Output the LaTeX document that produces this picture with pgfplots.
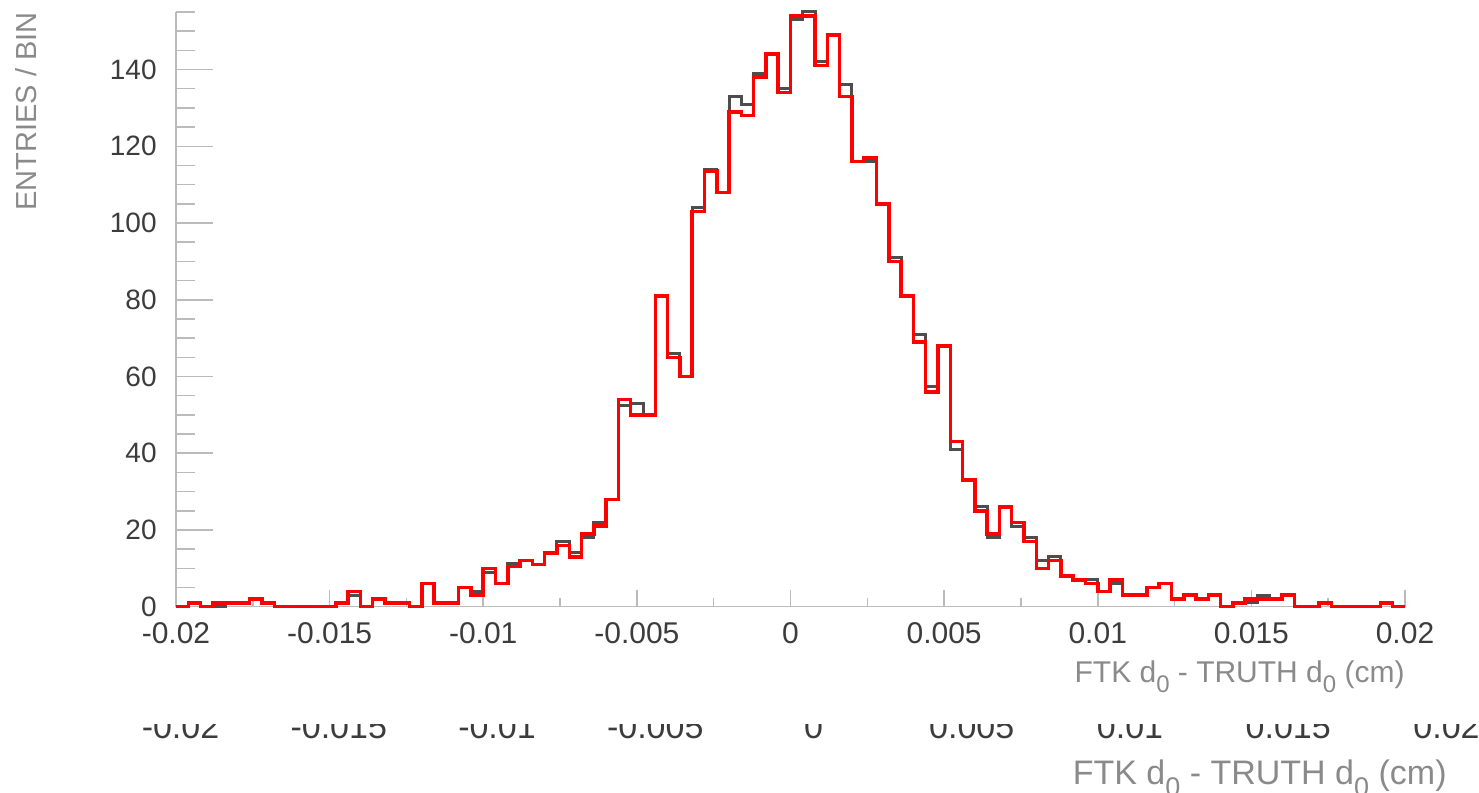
\documentclass[border=0pt]{standalone}
\usepackage{pgfplots}
\pgfplotsset{compat=1.18}
\usepackage{pgfplotstable}
\usepackage{fontspec}
\setmainfont{Liberation Sans}
\definecolor{histgray}{HTML}{4D4D4D}
\definecolor{axisgray}{HTML}{BBBBBB}
\definecolor{ticklab}{HTML}{3C3C3C}
\definecolor{titlegray}{HTML}{8A8A8A}

\pgfplotstableread{
x r g
-0.0200 0 0
-0.0196 1 1
-0.0192 0 0
-0.0188 1 0
-0.0184 1 1
-0.0180 1 1
-0.0176 2 2
-0.0172 1 1
-0.0168 0 0
-0.0164 0 0
-0.0160 0 0
-0.0156 0 0
-0.0152 0 0
-0.0148 1 1
-0.0144 4 3
-0.0140 0 0
-0.0136 2 2
-0.0132 1 1
-0.0128 1 1
-0.0124 0 0
-0.0120 6 6
-0.0116 1 1
-0.0112 1 1
-0.0108 5 5
-0.0104 3 4
-0.0100 10 9
-0.0096 6 6
-0.0092 10.5 11.2
-0.0088 12 12
-0.0084 11 11
-0.0080 14 14
-0.0076 16 17
-0.0072 13 14
-0.0068 19 18
-0.0064 21 22
-0.0060 28 28
-0.0056 54 52.5
-0.0052 50 53
-0.0048 50 50
-0.0044 81 81
-0.0040 65 66
-0.0036 60 60
-0.0032 103 104
-0.0028 113.5 114
-0.0024 108 108
-0.0020 129 133
-0.0016 128 131
-0.0012 138 139
-0.0008 144 144
-0.0004 134 135
0.0000 154 153
0.0004 154 155
0.0008 141 142
0.0012 149 149
0.0016 133 136
0.0020 116 116
0.0024 117 116
0.0028 105 105
0.0032 90 91
0.0036 81 81
0.0040 69 71
0.0044 56 57.5
0.0048 68 68
0.0052 43 41
0.0056 33 33
0.0060 25 26
0.0064 19 18
0.0068 26 26
0.0072 22 21
0.0076 17 18
0.0080 10 12
0.0084 12 13
0.0088 8 8
0.0092 7 7
0.0096 6 7
0.0100 4 4
0.0104 7 6
0.0108 3 3
0.0112 3 3
0.0116 5 5
0.0120 6 6
0.0124 2 2
0.0128 3 3
0.0132 2 2
0.0136 3 3
0.0140 0 0
0.0144 1 1
0.0148 2 1
0.0152 2 3
0.0156 2 2
0.0160 3 3
0.0164 0 0
0.0168 0 0
0.0172 1 1
0.0176 0 0
0.0180 0 0
0.0184 0 0
0.0188 0 0
0.0192 1 1
0.0196 0 0
0.0200 0 0
}\hist

\begin{document}
\begin{tikzpicture}
\path[use as bounding box] (0,0) rectangle (739.5pt,396.5pt);
\begin{axis}[
  at={(88pt,93.15pt)}, anchor=south west,
  scale only axis, width=614.5pt, height=297.35pt,
  xmin=-0.02, xmax=0.02, ymin=0, ymax=155,
  clip=false,
  axis x line*=bottom, axis y line*=left,
  axis line style={draw=axisgray, line width=0.75pt},
  tick align=inside,
  xtick={-0.02,-0.015,-0.01,-0.005,0,0.005,0.01,0.015,0.02},
  xticklabels={-0.02,-0.015,-0.01,-0.005,0,0.005,0.01,0.015,0.02},
  minor xtick={-0.0175,-0.0125,-0.0075,-0.0025,0.0025,0.0075,0.0125,0.0175},
  ytick={0,20,40,60,80,100,120,140},
  yticklabels={0,20,40,60,80,100,120,140},
  minor ytick={5,10,15,25,30,35,45,50,55,65,70,75,85,90,95,105,110,115,125,130,135,145,150,155},
  scaled x ticks=false,
  xtick style={draw=axisgray, line width=0.75pt, /pgfplots/major tick length=8.5pt, /pgfplots/minor tick length=4.5pt},
  ytick style={draw=axisgray, line width=0.75pt, /pgfplots/major tick length=18.5pt, /pgfplots/minor tick length=9.5pt},
  xticklabel style={anchor=base, yshift=-18.2pt, text=ticklab, font=\fontsize{15}{18}\selectfont},
  yticklabel style={anchor=east, inner sep=0pt, xshift=-9.5pt, text=ticklab, font=\fontsize{14}{17}\selectfont},
  xlabel={FTK d\raisebox{-5pt}{\fontsize{12}{12}\selectfont 0} - TRUTH d\raisebox{-5pt}{\fontsize{12}{12}\selectfont 0} (cm)},
  xlabel style={at={(axis description cs:1,-0.1283)}, anchor=base east, inner sep=0pt, text=titlegray, font=\fontsize{15}{18}\selectfont},
  ylabel={ENTRIES / BIN},
  ylabel style={at={(axis description cs:-0.1221,1)}, anchor=east, inner sep=0pt, text=titlegray, font=\fontsize{14.5}{17}\selectfont},
]
\addplot[const plot, draw=histgray, line width=1.5pt] table[x=x,y=g]{\hist};
\addplot[const plot, draw=red, line width=1.75pt] table[x=x,y=r]{\hist};
\end{axis}
\begin{scope}
\clip (0,0) rectangle (739.5pt,34pt);
\foreach \xx/\ll in {90.25/-0.02,169.375/-0.015,248.5/-0.01,327.625/-0.005,406.75/0,485.875/0.005,565/0.01,644.125/0.015,723.25/0.02}
  \node[anchor=center, inner sep=0pt, text=ticklab, font=\fontsize{17}{20}\selectfont] at (\xx pt,33pt) {\ll};
\end{scope}
\node[anchor=base east, inner sep=0pt, text=titlegray, font=\fontsize{17}{20}\selectfont] at (723.5pt,4pt) {FTK d\raisebox{-5.6pt}{\fontsize{13.5}{13.5}\selectfont 0} - TRUTH d\raisebox{-5.6pt}{\fontsize{13.5}{13.5}\selectfont 0} (cm)};
\end{tikzpicture}
\end{document}
